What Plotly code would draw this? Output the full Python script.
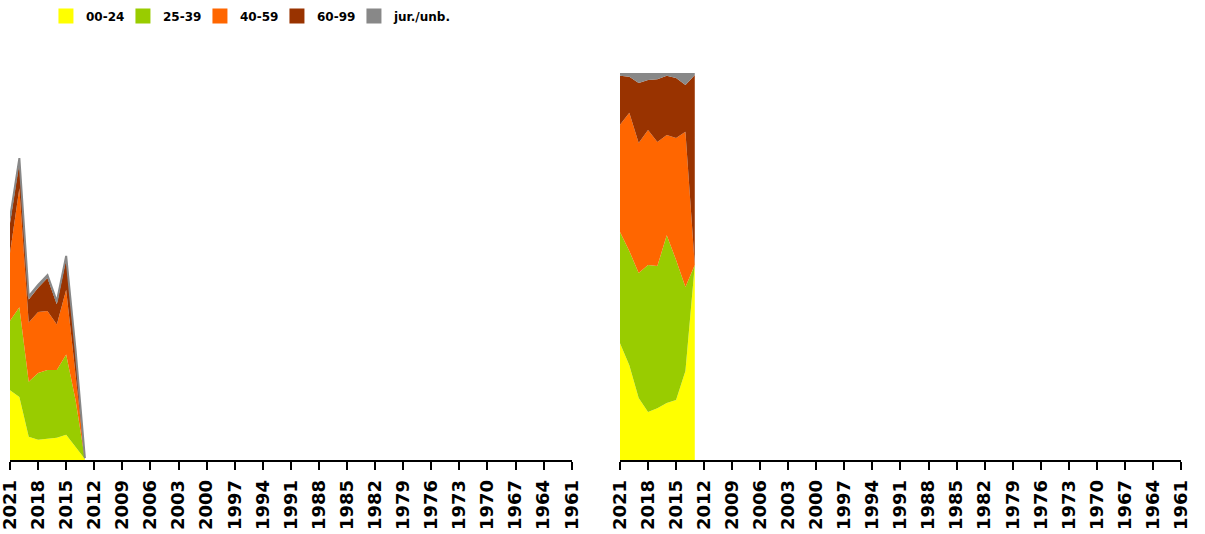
import plotly.graph_objects as go

# Jahre (x-Achse läuft rückwärts von 2021 bis 1961)
years = [2021, 2020, 2019, 2018, 2017, 2016, 2015, 2014, 2013]
groups = ['00-24', '25-39', '40-59', '60-99', 'jur./unb.']
colors = ['#ffff00', '#99cc00', '#ff6600', '#993300', '#888888']

# absolute Werte (linkes Diagramm)
abs_00_24 = [72, 65, 24, 21, 22, 23, 26, 13, 1]
abs_25_39 = [72, 93, 57, 69, 71, 70, 83, 49, 0]
abs_40_59 = [70, 123, 61, 63, 61, 47, 67, 29, 0]
abs_60_99 = [31, 27, 24, 25, 34, 21, 32, 21, 1]
abs_jur = [5, 4, 3, 3, 3, 3, 3, 2, 0]

# Anteile in Prozent (rechtes Diagramm)
pct_00_24 = [30.2, 24.5, 16.0, 12.4, 13.4, 14.7, 15.5, 23.0, 50.4]
pct_25_39 = [28.7, 29.5, 32.3, 38.0, 36.7, 43.4, 36.2, 21.7, 0]
pct_40_59 = [27.7, 35.7, 33.6, 34.9, 32.1, 25.9, 31.5, 40.1, 0]
pct_60_99 = [12.7, 9.3, 15.5, 12.9, 16.2, 15.3, 15.5, 12.1, 49.1]
pct_jur = [0.7, 1.0, 2.6, 1.8, 1.6, 0.7, 1.3, 3.1, 0.5]

abs_series = [abs_00_24, abs_25_39, abs_40_59, abs_60_99, abs_jur]
pct_series = [pct_00_24, pct_25_39, pct_40_59, pct_60_99, pct_jur]

fig = go.Figure()

for name, color, vals in zip(groups, colors, abs_series):
    last = name == groups[-1]
    fig.add_trace(go.Scatter(
        x=years, y=vals, name=name, stackgroup='abs', mode='lines',
        line=dict(width=2 if last else 0, color=color), fillcolor=color,
        showlegend=False, hoverinfo='skip', xaxis='x', yaxis='y'
    ))

for name, color, vals in zip(groups, colors, pct_series):
    fig.add_trace(go.Scatter(
        x=years, y=vals, name=name, stackgroup='pct', groupnorm='percent', mode='lines',
        line=dict(width=0, color=color), fillcolor=color,
        showlegend=False, hoverinfo='skip', xaxis='x2', yaxis='y2'
    ))

# Legende mit quadratischen Symbolen
for name, color in zip(groups, colors):
    fig.add_trace(go.Scatter(
        x=[None], y=[None], name=name, mode='markers',
        marker=dict(symbol='square', size=15, color=color, line=dict(width=0)),
        legendwidth=80 if name == groups[-1] else 32,
        xaxis='x', yaxis='y'
    ))

xaxis_style = dict(
    range=[2021, 1961], tickmode='linear', tick0=2021, dtick=3,
    showline=True, linecolor='black', linewidth=1.5,
    ticks='outside', ticklen=8, tickwidth=1.5, tickcolor='black',
    tickangle=-90, ticklabelstandoff=3, ticklabeloverflow='allow',
    tickfont=dict(family='DejaVu Sans', size=18, color='black', weight='bold'),
    showgrid=False, zeroline=False, fixedrange=True, automargin=False
)

fig.update_layout(
    width=1205, height=534,
    margin=dict(l=10, r=24, t=73, b=74, autoexpand=False),
    paper_bgcolor='white', plot_bgcolor='white',
    xaxis=dict(domain=[0, 0.4797], anchor='y', **xaxis_style),
    xaxis2=dict(domain=[0.5209, 1], anchor='y2', **xaxis_style),
    yaxis=dict(range=[0, 400], visible=False, anchor='x', fixedrange=True),
    yaxis2=dict(range=[0, 100], visible=False, anchor='x2', fixedrange=True),
    showlegend=True,
    legend=dict(
        orientation='h', x=0.0307, xanchor='left', y=1.1845, yanchor='top',
        font=dict(family='DejaVu Sans', size=12, color='black', weight='bold'),
        entrywidthmode='pixels', traceorder='normal',
        bgcolor='rgba(0,0,0,0)'
    )
)

fig.write_html("out.html", config={'displayModeBar': False},
               post_script="document.body.style.margin='0';")
